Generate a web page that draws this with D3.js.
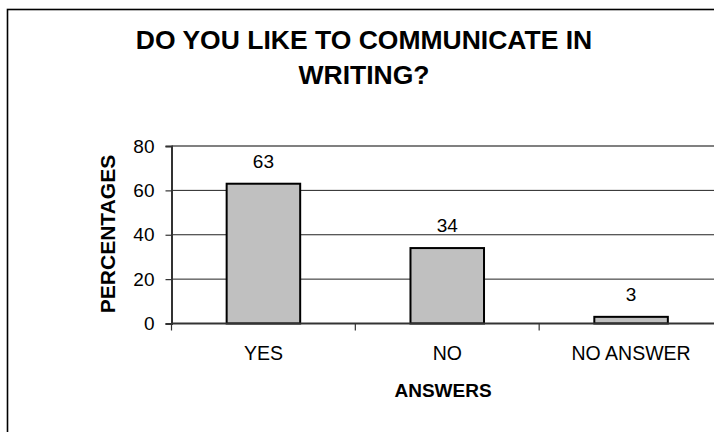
<!DOCTYPE html>
<html>
<head>
<meta charset="utf-8">
<script src="https://cdn.jsdelivr.net/npm/d3@7/dist/d3.min.js"></script>
<style>
  html, body { margin: 0; padding: 0; background: #fff; }
  svg { display: block; }
  text { font-family: "Liberation Sans", Arial, sans-serif; fill: #000; }
</style>
</head>
<body>
<svg id="chart" width="714" height="432"></svg>
<script>
// Survey answers and their share in percent
const categories = ["YES", "NO", "NO ANSWER"];
const percentages = [63, 34, 3];
const yTicks = [0, 20, 40, 60, 80];
const titleLines = ["DO YOU LIKE TO COMMUNICATE IN", "WRITING?"];
const xTitle = "ANSWERS";
const yTitle = "PERCENTAGES";

const svg = d3.select("#chart");

// Chart area frame (runs off the right and bottom edges)
svg.append("rect")
  .attr("x", 7.5).attr("y", 9.5)
  .attr("width", 760).attr("height", 480)
  .attr("fill", "#fff")
  .attr("stroke", "#000").attr("stroke-width", 1.6);

const plot = { left: 171.5, right: 723, top: 146, bottom: 323.5 };

const x = d3.scaleBand()
  .domain(categories)
  .range([plot.left, plot.right])
  .padding(0);

const y = d3.scaleLinear()
  .domain([0, 80])
  .range([plot.bottom, plot.top]);

// Horizontal gridlines
svg.append("g")
  .selectAll("line")
  .data(yTicks.filter(t => t > 0))
  .join("line")
  .attr("x1", plot.left).attr("x2", plot.right)
  .attr("y1", d => y(d)).attr("y2", d => y(d))
  .attr("stroke", d => d === 80 ? "#808080" : "#222")
  .attr("stroke-width", d => d === 80 ? 2 : 1);

// Bars
const barW = x.bandwidth() * 0.4;
svg.append("g")
  .selectAll("rect")
  .data(categories)
  .join("rect")
  .attr("x", d => x(d) + (x.bandwidth() - barW) / 2)
  .attr("y", (d, i) => y(percentages[i]))
  .attr("width", barW)
  .attr("height", (d, i) => y(0) - y(percentages[i]))
  .attr("fill", "#c0c0c0")
  .attr("stroke", "#000")
  .attr("stroke-width", 2);

// Value labels
svg.append("g")
  .selectAll("text")
  .data(categories)
  .join("text")
  .attr("x", d => x(d) + x.bandwidth() / 2)
  .attr("y", (d, i) => y(percentages[i]) - 16)
  .attr("text-anchor", "middle")
  .attr("font-size", 19)
  .text((d, i) => percentages[i]);

// Y axis
const yAxis = svg.append("g")
  .attr("transform", `translate(${plot.left},0)`)
  .call(d3.axisLeft(y).tickValues(yTicks).tickSize(6).tickPadding(11));
yAxis.select(".domain").attr("stroke", "#333").attr("stroke-width", 2);
yAxis.selectAll(".tick line").attr("stroke", "#333").attr("stroke-width", 1.2);
yAxis.selectAll(".tick text")
  .attr("font-size", 19)
  .attr("font-family", "Liberation Sans, Arial, sans-serif")
  .attr("fill", "#000");

// X axis with ticks at band boundaries
const xAxis = svg.append("g")
  .attr("transform", `translate(0,${plot.bottom})`);
xAxis.append("line")
  .attr("x1", plot.left).attr("x2", plot.right)
  .attr("stroke", "#333").attr("stroke-width", 2);
xAxis.selectAll("line.tick")
  .data(categories)
  .join("line")
  .attr("class", "tick")
  .attr("x1", d => x(d)).attr("x2", d => x(d))
  .attr("y1", 0).attr("y2", 7)
  .attr("stroke", "#333").attr("stroke-width", 1.2);
xAxis.selectAll("text")
  .data(categories)
  .join("text")
  .attr("x", d => x(d) + x.bandwidth() / 2)
  .attr("y", 36)
  .attr("text-anchor", "middle")
  .attr("font-size", 19.5)
  .text(d => d);

// Axis titles
svg.append("text")
  .attr("x", 443).attr("y", 397)
  .attr("text-anchor", "middle")
  .attr("font-size", 19)
  .attr("font-weight", "bold")
  .text(xTitle);

svg.append("text")
  .attr("transform", "translate(115,234) rotate(-90)")
  .attr("text-anchor", "middle")
  .attr("font-size", 21)
  .attr("font-weight", "bold")
  .text(yTitle);

// Chart title
svg.append("g")
  .selectAll("text")
  .data(titleLines)
  .join("text")
  .attr("x", 364)
  .attr("y", (d, i) => 49 + i * 35)
  .attr("text-anchor", "middle")
  .attr("font-size", 26.5)
  .attr("font-weight", "bold")
  .text(d => d);
</script>
</body>
</html>
